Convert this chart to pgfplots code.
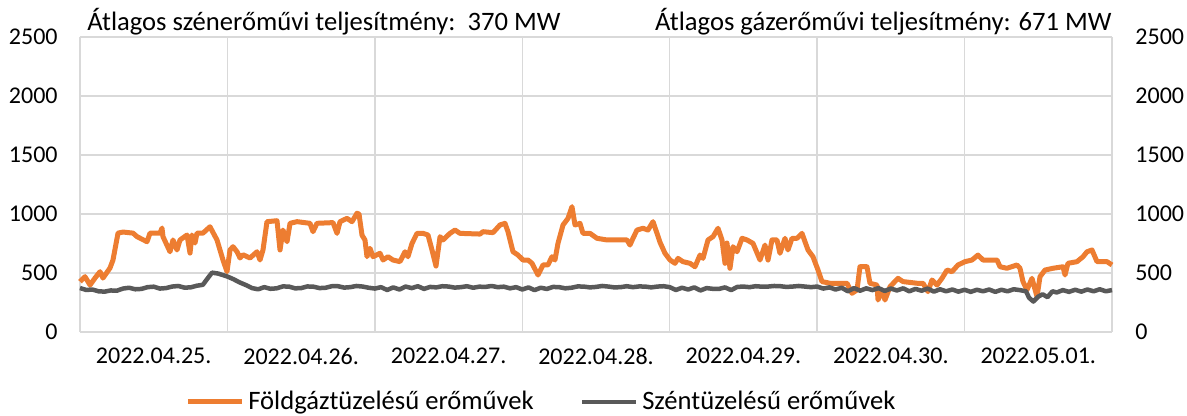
\documentclass[border=0pt]{standalone}
\usepackage{fontspec}
\setmainfont{Carlito}
\usepackage{pgfplots}
\pgfplotsset{compat=1.18}
\definecolor{gasor}{HTML}{ED7D31}
\definecolor{coalg}{HTML}{595959}
\definecolor{gridg}{HTML}{D9D9D9}
\newcommand{\cf}{\fontsize{12}{14}\selectfont}
\newcommand{\lf}{\fontsize{13.3}{15}\selectfont}
\pgfplotsset{
  /pgf/number format/assume math mode=true,
  /pgf/number format/1000 sep={},
  base/.style={
    at={(0,0)}, anchor=south west, scale only axis,
    width=516pt, height=147.5pt,
    xmin=0, xmax=168, ymin=0, ymax=2500,
    major tick length=0pt, minor tick length=0pt,
    tick label style={font=\cf, text=black},
    ytick={0,500,...,2500},
  }
}
\begin{document}
\begin{tikzpicture}
\useasboundingbox (-40pt,-42pt) rectangle (553.5pt,166pt);
\begin{axis}[base, clip=false,
  axis line style={draw=none},
  xtick={12,36,60,84,108,132,156},
  xticklabels={2022.04.25.,2022.04.26.,2022.04.27.,2022.04.28.,2022.04.29.,2022.04.30.,2022.05.01.},
  minor xtick={0,24,...,168},
  xminorgrids=true, ymajorgrids=true,
  minor grid style={draw=gridg, line width=0.75pt},
  major grid style={draw=gridg, line width=0.75pt},
  xticklabel style={anchor=north, inner sep=0pt, yshift=-8pt},
  yticklabel style={anchor=east, inner sep=0pt, xshift=-11pt},
  legend style={at={(axis description cs:0.1017,-0.237)}, anchor=west, draw=none, fill=none,
    legend columns=2, font=\lf, inner sep=0pt,
    /tikz/every even column/.append style={column sep=21pt}},
  legend cell align=left,
  legend image code/.code={\draw[#1] (0pt,0pt) -- (27pt,0pt);},
]
\addplot[gasor, line width=2.5pt, line join=round] coordinates {
(0,426) (0.81,469) (1.63,398) (2.44,457) (3.26,511) (3.74,457) (4.88,542) (5.37,610)
(6.19,838) (7.00,847) (8.63,838) (9.28,808) (10.91,765) (11.40,838) (13.02,838) (13.35,881)
(13.51,808) (14.65,680) (15.14,780) (15.79,695) (16.28,780) (17.42,822) (17.91,669) (18.23,822)
(18.72,754) (19.05,838) (20.02,838) (21.16,892) (22.30,780) (23.28,610) (23.93,511) (24.42,695)
(24.91,723) (25.56,680) (26.05,627) (26.53,655) (27.67,627) (28.81,680) (29.30,610) (29.79,695)
(30.44,935) (32.07,943) (32.56,695) (33.04,864) (33.70,765) (34.19,921) (35.33,935) (37.44,921)
(37.93,850) (38.58,921) (41.19,927) (41.84,836) (42.33,935) (43.46,963) (44.28,935) (45.09,1006)
(45.42,1000) (45.91,820) (46.39,780) (46.72,638) (47.21,709) (47.70,638) (48.84,667) (49.33,610)
(50.14,638) (50.95,610) (52.09,596) (52.91,680) (53.39,638) (54.05,751) (54.86,836) (55.84,836)
(56.65,822) (57.30,695) (57.95,559) (58.61,808) (59.09,780) (60.23,836) (61.05,864) (61.86,836)
(65.12,830) (65.60,850) (67.23,842) (68.37,907) (69.18,921) (69.67,850) (70.49,680) (71.30,652)
(72.12,610) (72.93,610) (73.58,582) (74.56,483) (75.37,568) (76.18,568) (76.84,638) (77.32,610)
(77.81,751) (78.63,907) (79.44,963) (80.09,1062) (80.58,907) (81.39,921) (81.88,836) (83.02,836)
(84.16,794) (85.79,780) (89.04,780) (89.53,737) (90.02,794) (90.67,864) (91.65,879) (92.46,864)
(93.28,935) (93.93,836) (94.42,760) (95.23,667) (96.05,610) (96.86,582) (97.35,624) (98.16,596)
(99.30,582) (100.11,553) (100.93,652) (101.42,624) (102.23,780) (103.05,808) (103.86,879) (104.51,780)
(105.00,582) (105.32,754) (105.81,540) (106.30,723) (106.95,680) (107.77,794) (108.58,780) (109.56,751)
(110.70,610) (111.51,737) (112.00,610) (112.65,780) (113.46,780) (113.95,667) (114.77,794) (115.25,695)
(115.91,794) (116.72,794) (117.53,836) (118.51,695) (119.32,638) (120.14,525) (120.79,427) (122.09,413)
(124.86,413) (125.67,328) (126.49,356) (126.97,553) (128.11,553) (128.60,413) (129.74,398) (129.91,271)
(130.56,356) (131.04,271) (131.86,384) (133.16,455) (133.98,427) (136.27,413) (137.23,413) (138.04,342)
(138.69,441) (139.51,398) (140.32,455) (141.14,525) (141.95,511) (142.93,568) (144.07,596) (145.21,610)
(146.18,652) (147.00,610) (149.28,610) (149.77,553) (150.90,540) (152.53,568) (153.02,540) (153.51,427)
(154.16,356) (154.97,455) (155.79,299) (156.28,469) (157.09,525) (158.39,540) (160.02,553) (160.35,483)
(160.83,582) (162.30,596) (163.28,638) (163.93,680) (164.74,695) (165.56,596) (167.19,596) (168,568)
};
\addlegendentry{Földgáztüzelésű erőművek}
\addplot[coalg, line width=2.25pt, line join=round] coordinates {
(0,373) (1,356) (2,360) (3,345) (4,342) (5,352) (6,350) (7,368) (8,375) (9,362) (10,365) (11,380)
(12,384) (13,368) (14,372) (15,385) (16,390) (17,376) (18,378) (19,392) (20,400) (21,470) (21.5,503)
(22.5,495) (24,470) (25,447) (26,420) (27,398) (28,372) (29,362) (30,380) (31,366) (32,370) (33,386)
(34,385) (35,370) (36,372) (37,386) (38,384) (39,372) (40,375) (41,388) (42,388) (43,376) (44,380)
(45,390) (46,385) (47,375) (48,368) (49,380) (50,356) (51,378) (52,360) (53,385) (54,372) (55,388)
(56,365) (57,382) (58,378) (59,388) (60,385) (61,376) (62,380) (63,388) (64,375) (65,384) (66,382)
(67,390) (68,380) (69,384) (70,370) (71,380) (72,360) (73,378) (74,355) (75,375) (76,365) (77,382)
(78,380) (79,370) (80,375) (81,386) (82,385) (83,378) (84,382) (85,390) (86,385) (87,378) (88,380)
(89,388) (90,380) (91,386) (92,385) (93,378) (94,385) (95,388) (96,380) (97,356) (98,375) (99,360)
(100,378) (101,352) (102,372) (103,366) (104,365) (105,378) (106,355) (107,382) (108,385) (109,380)
(110,388) (111,384) (112,385) (113,390) (114,388) (115,382) (116,385) (117,390) (118,385) (119,380)
(120,385) (121,368) (122,378) (123,360) (124,375) (125,345) (126,372) (127,350) (128,370) (129,355)
(130,372) (131,348) (132,368) (133,352) (134,370) (135,345) (136,365) (137,350) (138,368) (139,342)
(140,362) (141,345) (142,360) (143,342) (144,358) (145,340) (146,358) (147,345) (148,360) (149,340)
(150,358) (151,345) (152,362) (153,355) (154,345) (154.5,290) (155.2,258) (156,300) (156.7,320)
(157.5,295) (158.3,345) (159,335) (160,355) (161,340) (162,358) (163,342) (164,360) (165,345)
(166,362) (167,345) (168,355)
};
\addlegendentry{Széntüzelésű erőművek}
\node[anchor=base west, inner sep=0pt, font=\lf] at (rel axis cs:0,1) [xshift=3.5pt, yshift=3pt] {Átlagos szénerőművi teljesítmény:\ \ 370 MW};
\node[anchor=base east, inner sep=0pt, font=\lf] at (rel axis cs:1,1) [yshift=3pt] {Átlagos gázerőművi teljesítmény: 671 MW};
\end{axis}
\begin{axis}[base,
  hide x axis, axis y line*=right, axis line style={draw=none},
  yticklabel style={anchor=west, inner sep=0pt, xshift=11.5pt},
]
\addplot[draw=none] coordinates {(0,0)};
\end{axis}
\end{tikzpicture}
\end{document}
